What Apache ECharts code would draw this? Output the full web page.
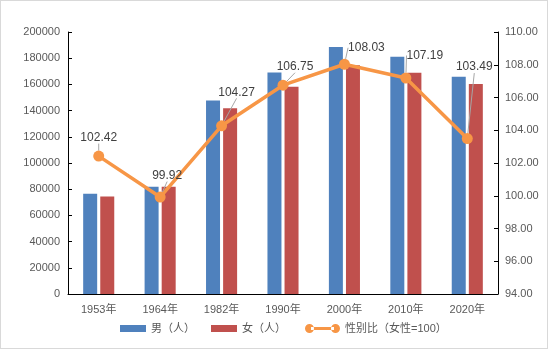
<!DOCTYPE html>
<html><head><meta charset="utf-8">
<script src="https://cdn.jsdelivr.net/npm/echarts@6/dist/echarts.min.js"></script>
<style>
html,body{margin:0;padding:0;background:#fff;}
#c{width:548px;height:349px;box-sizing:border-box;border:1px solid #d9d9d9;}
</style></head>
<body><div id="c"></div>
<script>
const categories = ['1953年','1964年','1982年','1990年','2000年','2010年','2020年'];
const male = [76500, 81800, 147700, 169000, 188600, 181100, 165900];
const female = [74500, 81900, 141700, 158300, 174600, 168900, 160300];
const ratio = [102.42, 99.92, 104.27, 106.75, 108.03, 107.19, 103.49];
const seriesNames = ['男（人）','女（人）','性别比（女性=100）'];
// label offsets (style only)
const labelDx = [0, 7, 15, 12, 22, 19, 7];
const labelDy = [-2, -5, -17, -2, 0, -6, -55];

const FONT = "'Liberation Sans','Noto Sans CJK SC',sans-serif";
const chart = echarts.init(document.getElementById('c'), null, {renderer:'canvas'});
const axisLabel = {color:'#595959', fontSize:11, fontFamily:FONT};
const legendText = {color:'#595959', fontSize:11, fontFamily:FONT};
chart.setOption({
  animation:false,
  grid:{left:67, right:49, top:31, bottom:54},
  legend:[
    {
      bottom:9, left:114, itemGap:16, itemWidth:26, itemHeight:7,
      textStyle:legendText,
      data:[
        {name:seriesNames[0], icon:'rect', itemStyle:{color:'#4F81BD'}},
        {name:seriesNames[1], icon:'rect', itemStyle:{color:'#C0504D'}}
      ]
    },
    {
      bottom:9, left:299, itemWidth:35, itemHeight:9,
      textStyle:legendText,
      data:[
        {name:seriesNames[2], icon:'path://M0,4.5a4.5,4.5 0 1,0 9,0a4.5,4.5 0 1,0 -9,0z M26,4.5a4.5,4.5 0 1,0 9,0a4.5,4.5 0 1,0 -9,0z M6,3h23v3h-23z', itemStyle:{color:'#F79646'}}
      ]
    }
  ],
  xAxis:{
    type:'category', data:categories,
    axisLine:{lineStyle:{color:'#000', width:1}},
    axisTick:{inside:true, length:4, lineStyle:{color:'#000'}},
    axisLabel:Object.assign({margin:10}, axisLabel)
  },
  yAxis:[
    {type:'value', min:0, max:200000, interval:20000,
     axisLine:{show:true, lineStyle:{color:'#000'}},
     axisTick:{show:true, inside:true, length:4, lineStyle:{color:'#000'}},
     splitLine:{show:false},
     axisLabel:Object.assign({margin:8, formatter:v=>String(v)}, axisLabel)},
    {type:'value', min:94, max:110, interval:2, position:'right',
     axisLine:{show:true, lineStyle:{color:'#000'}},
     axisTick:{show:true, inside:true, length:4, lineStyle:{color:'#000'}},
     splitLine:{show:false},
     axisLabel:Object.assign({margin:7, formatter:v=>v.toFixed(2)}, axisLabel)}
  ],
  series:[
    {name:seriesNames[0], type:'bar', data:male, barWidth:14, barGap:'22%', itemStyle:{color:'#4F81BD'}},
    {name:seriesNames[1], type:'bar', data:female, barWidth:14, barGap:'22%', itemStyle:{color:'#C0504D'}},
    {name:seriesNames[2], type:'line', yAxisIndex:1, data:ratio,
     symbol:'circle', symbolSize:11,
     lineStyle:{color:'#F79646', width:3.5},
     itemStyle:{color:'#F79646'},
     label:{show:true, position:'top', distance:5, color:'#404040', fontSize:12, fontFamily:FONT,
            formatter:p=>p.value.toFixed(2)},
     labelLine:{show:true, lineStyle:{color:'#a6a6a6', width:1}},
     labelLayout:function(p){ return {dx:labelDx[p.dataIndex], dy:labelDy[p.dataIndex]}; },
     z:5}
  ]
});
</script></body></html>
